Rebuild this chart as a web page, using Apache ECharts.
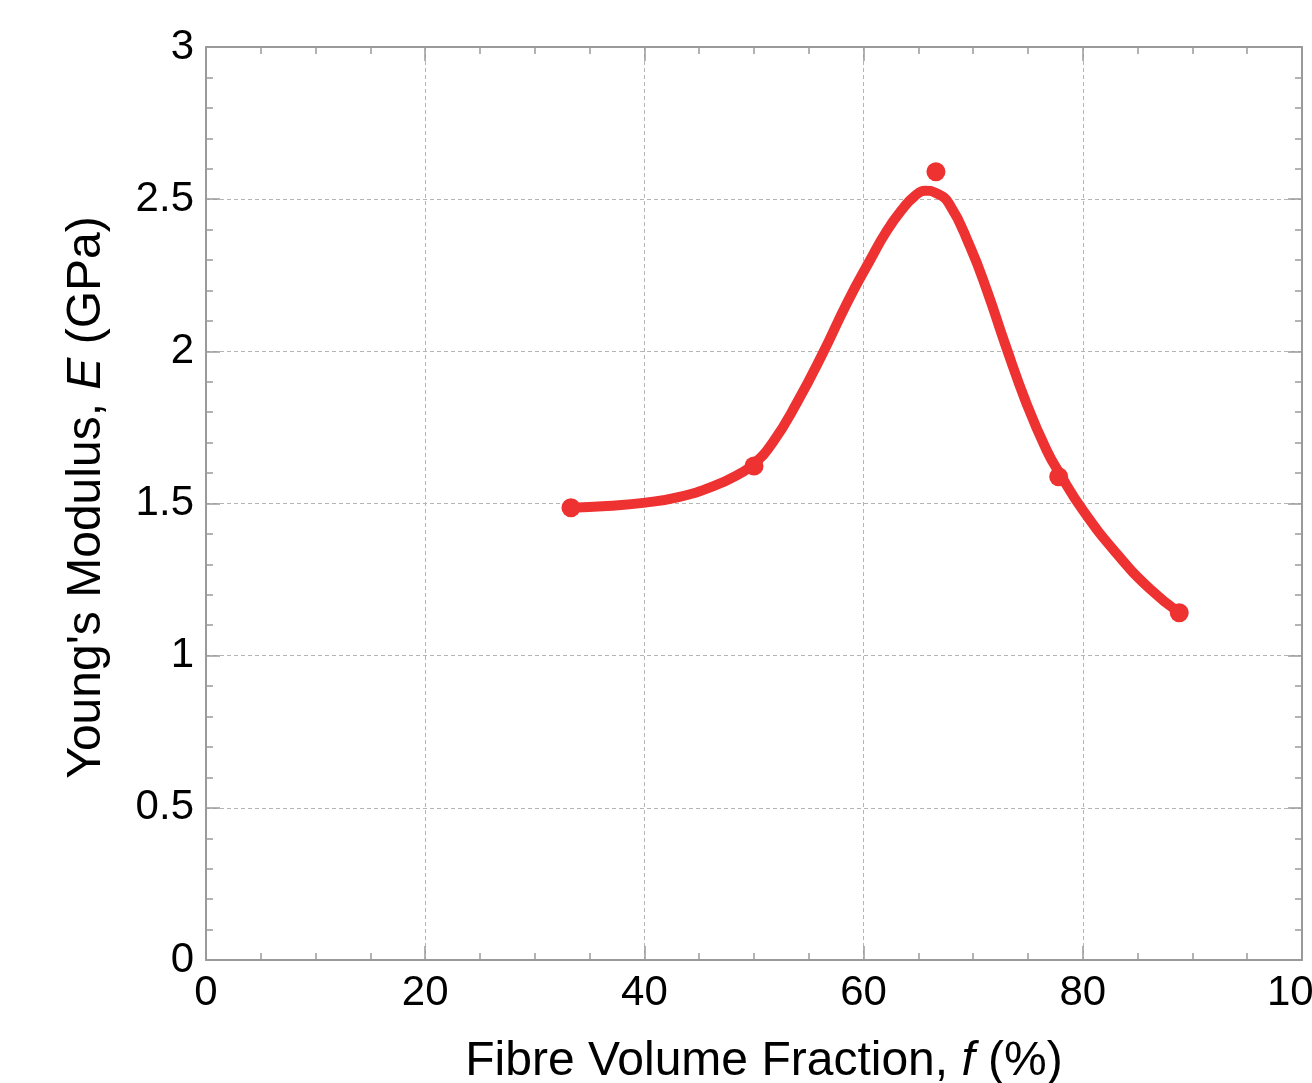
<!DOCTYPE html>
<html>
<head>
<meta charset="utf-8">
<title>Young's Modulus vs Fibre Volume Fraction</title>
<script src="https://cdn.jsdelivr.net/npm/echarts@6/dist/echarts.min.js"></script>
<style>
  html, body { margin: 0; padding: 0; background: #ffffff; overflow: hidden; }
  #chart { width: 1312px; height: 1083px; }
</style>
</head>
<body>
<div id="chart"></div>
<script>
// Measured samples: fibre volume fraction (%) and Young's modulus (GPa)
const fibreFraction = [33.3, 50.0, 66.6, 77.8, 88.8];
const youngsModulus = [1.486, 1.623, 2.590, 1.588, 1.141];

// Trend curve through the samples
const trendFraction = [33.3, 36.6, 40.1, 43.2, 46.3, 48.7, 50.0, 51.7, 53.9, 56.3, 58.5, 60.6, 62.1, 63.6, 64.6, 65.6, 66.6, 67.8, 69.7, 71.3, 72.9, 74.9, 76.7, 77.9, 80.0, 83.1, 86.1, 88.8];
const trendModulus  = [1.486, 1.492, 1.503, 1.522, 1.557, 1.598, 1.630, 1.700, 1.830, 1.995, 2.160, 2.300, 2.395, 2.470, 2.508, 2.528, 2.520, 2.485, 2.345, 2.195, 2.025, 1.825, 1.675, 1.598, 1.478, 1.335, 1.220, 1.141];

// Axis ranges and tick spacing
const xRange = [0, 100], xStep = 20;
const yRange = [0, 3], yStep = 0.5;

const RED = '#ee3131';
const FRAME = '#9a9a9a';
const FONT = 'Liberation Sans, Arial, Helvetica, sans-serif';

const samplePoints = fibreFraction.map((f, i) => [f, youngsModulus[i]]);
const trendPoints = trendFraction.map((f, i) => [f, trendModulus[i]]);

function frameAxis(extra) {
  return Object.assign({
    type: 'value',
    axisLine: { show: true, onZero: false, lineStyle: { color: FRAME, width: 2 } },
    axisTick: { show: true, inside: true, length: 14, lineStyle: { color: FRAME, width: 1.5 } },
    splitLine: { show: false },
    minorSplitLine: { show: false }
  }, extra);
}

const titleRich = {
  n: { fontSize: 48, fontFamily: FONT, color: '#000' },
  i: { fontSize: 48, fontFamily: FONT, color: '#000', fontStyle: 'italic' }
};

const chart = echarts.init(document.getElementById('chart'), null, { renderer: 'canvas' });

chart.setOption({
  animation: false,
  backgroundColor: '#ffffff',
  grid: { left: 206, top: 47, right: 10, bottom: 123, containLabel: false, outerBoundsMode: 'none' },
  xAxis: [
    frameAxis({
      position: 'bottom',
      min: xRange[0], max: xRange[1], interval: xStep,
      minorTick: { show: true, splitNumber: 4, length: 7, lineStyle: { color: FRAME, width: 1.5 } },
      splitLine: { show: true, lineStyle: { color: '#b5b5b5', type: [4, 3], width: 1 } },
      axisLabel: { color: '#000', fontSize: 42, fontFamily: FONT, margin: 12, showMaxLabel: true, hideOverlap: false },
      name: '{n|Fibre Volume Fraction, }{i|f}{n| (%)}',
      nameLocation: 'middle',
      nameGap: 78,
      nameTextStyle: { rich: titleRich, padding: [0, 0, 0, 20] }
    }),
    frameAxis({
      position: 'top',
      min: xRange[0], max: xRange[1], interval: xStep,
      minorTick: { show: true, splitNumber: 4, length: 7, lineStyle: { color: FRAME, width: 1.5 } },
      axisLabel: { show: false }
    })
  ],
  yAxis: [
    frameAxis({
      position: 'left',
      min: yRange[0], max: yRange[1], interval: yStep,
      minorTick: { show: true, splitNumber: 5, length: 7, lineStyle: { color: FRAME, width: 1.5 } },
      splitLine: { show: true, lineStyle: { color: '#b5b5b5', type: [4, 3], width: 1 } },
      axisLabel: { color: '#000', fontSize: 42, fontFamily: FONT, margin: 12 },
      name: '{n|Young\'s Modulus, }{i|E}{n| (GPa)}',
      nameLocation: 'middle',
      nameGap: 95,
      nameTextStyle: { rich: titleRich, padding: [0, 0, 0, 12] }
    }),
    frameAxis({
      position: 'right',
      min: yRange[0], max: yRange[1], interval: yStep,
      minorTick: { show: true, splitNumber: 5, length: 7, lineStyle: { color: FRAME, width: 1.5 } },
      axisLabel: { show: false }
    })
  ],
  series: [
    {
      name: 'Trend',
      type: 'line',
      xAxisIndex: 0, yAxisIndex: 0,
      data: trendPoints,
      smooth: 0.5,
      showSymbol: false,
      symbol: 'none',
      lineStyle: { color: RED, width: 10, cap: 'round', join: 'round' },
      z: 3
    },
    {
      name: 'Samples',
      type: 'scatter',
      xAxisIndex: 0, yAxisIndex: 0,
      data: samplePoints,
      symbol: 'circle',
      symbolSize: 19,
      itemStyle: { color: RED, opacity: 1 },
      z: 4
    }
  ]
});
</script>
</body>
</html>
